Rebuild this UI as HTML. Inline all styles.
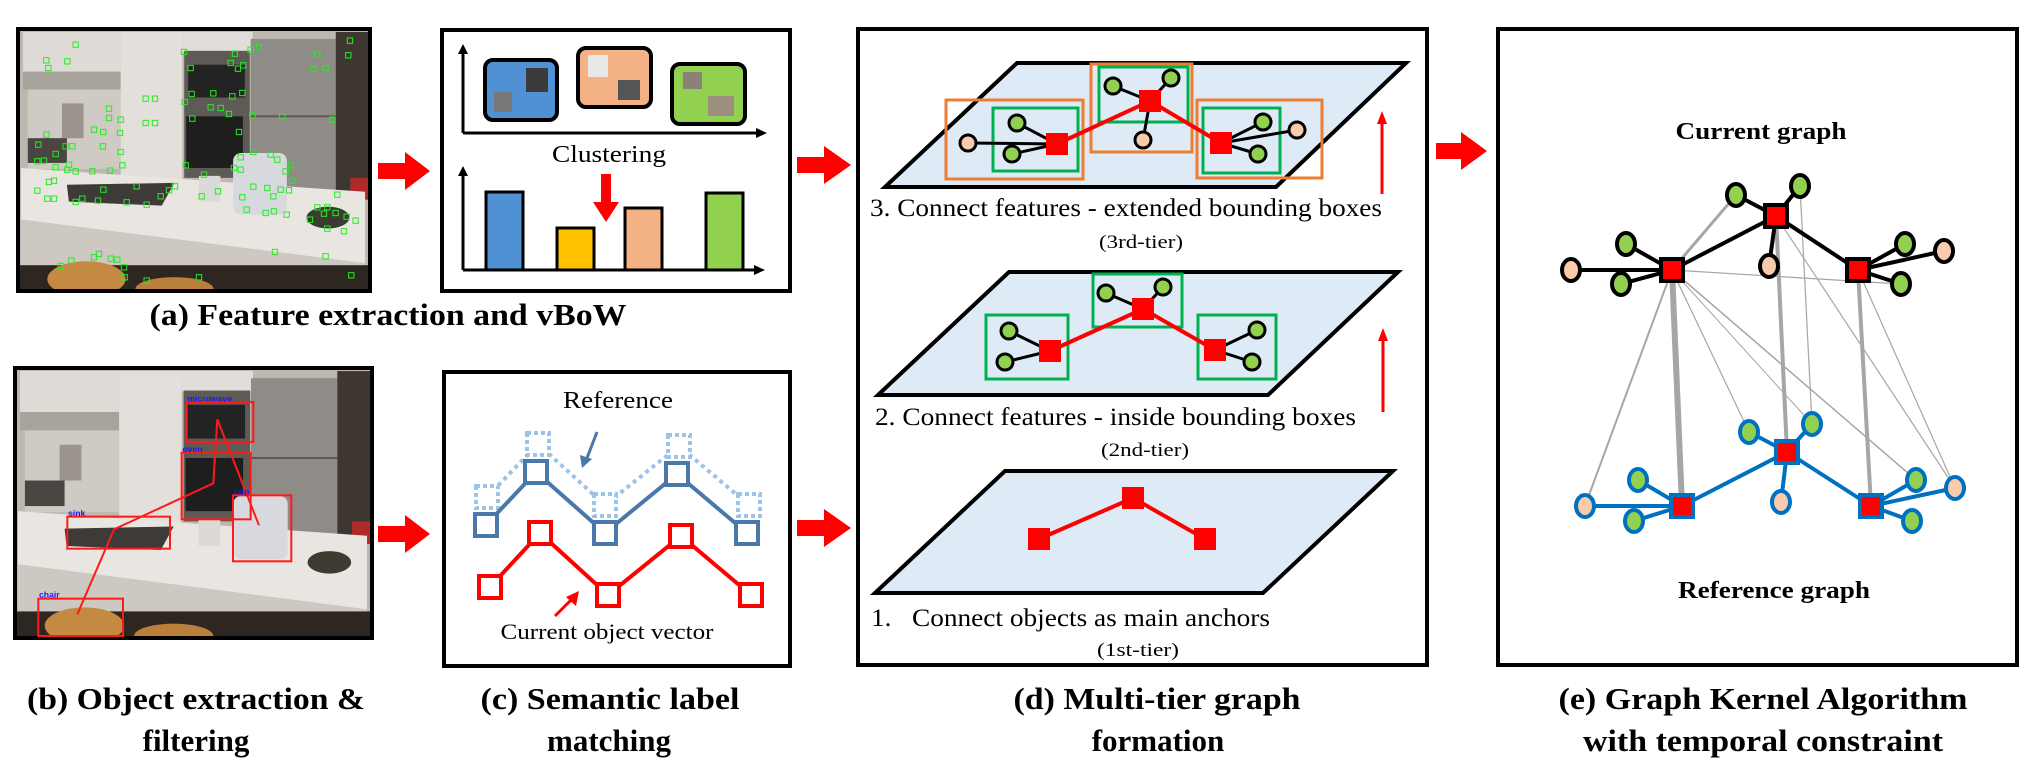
<!DOCTYPE html>
<html><head><meta charset="utf-8"><style>html,body{margin:0;padding:0;background:#fff}svg{display:block}</style></head>
<body>
<svg width="2036" height="769" viewBox="0 0 2036 769" xmlns="http://www.w3.org/2000/svg" font-family="Liberation Serif, serif">
<defs>
<symbol id="kitchen" viewBox="0 0 360 264" preserveAspectRatio="none">
<rect x="0" y="0" width="360" height="264" fill="#bdb7af"/>
<rect x="5" y="3" width="100" height="40" fill="#dedad5"/>
<rect x="5" y="43" width="100" height="18" fill="#a8a39b"/>
<rect x="10" y="61" width="95" height="80" fill="#cfcac3"/>
<rect x="105" y="3" width="63" height="148" fill="#e3dfda"/>
<rect x="168" y="3" width="72" height="20" fill="#e1ddd8"/>
<rect x="170" y="22" width="67" height="128" fill="#5e5a56"/>
<rect x="174" y="36" width="58" height="33" fill="#232323"/>
<rect x="172" y="88" width="58" height="52" fill="#1e1e1e"/>
<rect x="238" y="10" width="87" height="158" fill="#8f8b87"/>
<rect x="238" y="87" width="87" height="2" fill="#5c5955"/>
<rect x="325" y="3" width="35" height="168" fill="#3d3631"/>
<rect x="340" y="150" width="20" height="22" fill="#b02a2a"/>
<polygon points="3,140 355,164 355,236 3,192" fill="#e9e6e2"/>
<polygon points="50,157 160,155 147,178 52,174" fill="#3d3a37"/>
<rect x="220" y="125" width="55" height="62" rx="8" fill="#d8d9de"/>
<ellipse cx="317" cy="190" rx="22" ry="11" fill="#3b3b30"/>
<rect x="185" y="148" width="22" height="26" fill="#dcdad8"/>
<polygon points="3,192 355,236 355,264 3,264" fill="#cdc8c2"/>
<rect x="0" y="238" width="360" height="26" fill="#2e2721"/>
<ellipse cx="70" cy="252" rx="40" ry="18" fill="#c48a42"/>
<ellipse cx="160" cy="262" rx="40" ry="12" fill="#b97f3b"/>
<rect x="45" y="75" width="22" height="35" fill="#9a948c"/>
<rect x="10" y="110" width="40" height="25" fill="#4a4540"/>
</symbol>
</defs>

<!-- (a) photo -->
<use href="#kitchen" x="18" y="29" width="352" height="262"/>
<rect x="18" y="29" width="352" height="262" fill="none" stroke="#000" stroke-width="4"/>
<g transform="translate(14,28) scale(0.3333)" fill="none" stroke="#22ee22" stroke-width="3">
<g id="pts">
<rect x="177" y="42" width="16" height="16"/><rect x="89" y="89" width="16" height="16"/><rect x="95" y="112" width="16" height="16"/><rect x="152" y="92" width="16" height="16"/><rect x="502" y="64" width="16" height="16"/><rect x="655" y="69" width="16" height="16"/><rect x="727" y="50" width="16" height="16"/><rect x="702" y="57" width="16" height="16"/><rect x="1000" y="30" width="16" height="16"/><rect x="995" y="74" width="16" height="16"/><rect x="902" y="72" width="16" height="16"/><rect x="927" y="112" width="16" height="16"/><rect x="890" y="114" width="16" height="16"/><rect x="522" y="112" width="16" height="16"/><rect x="664" y="114" width="16" height="16"/><rect x="680" y="104" width="16" height="16"/><rect x="642" y="97" width="16" height="16"/><rect x="525" y="190" width="16" height="16"/><rect x="590" y="188" width="16" height="16"/><rect x="647" y="197" width="16" height="16"/><rect x="677" y="187" width="16" height="16"/><rect x="504" y="214" width="16" height="16"/><rect x="582" y="230" width="16" height="16"/><rect x="612" y="232" width="16" height="16"/><rect x="637" y="250" width="16" height="16"/><rect x="707" y="254" width="16" height="16"/><rect x="797" y="257" width="16" height="16"/><rect x="947" y="267" width="16" height="16"/><rect x="667" y="304" width="16" height="16"/><rect x="527" y="264" width="16" height="16"/><rect x="387" y="204" width="16" height="16"/><rect x="415" y="204" width="16" height="16"/><rect x="387" y="277" width="16" height="16"/><rect x="415" y="277" width="16" height="16"/><rect x="277" y="234" width="16" height="16"/><rect x="277" y="262" width="16" height="16"/><rect x="312" y="267" width="16" height="16"/><rect x="310" y="307" width="16" height="16"/><rect x="232" y="297" width="16" height="16"/><rect x="260" y="304" width="16" height="16"/><rect x="89" y="312" width="16" height="16"/><rect x="65" y="342" width="16" height="16"/><rect x="147" y="347" width="16" height="16"/><rect x="167" y="347" width="16" height="16"/><rect x="259" y="347" width="16" height="16"/><rect x="117" y="370" width="16" height="16"/><rect x="312" y="364" width="16" height="16"/><rect x="62" y="392" width="16" height="16"/><rect x="82" y="390" width="16" height="16"/><rect x="117" y="410" width="16" height="16"/><rect x="157" y="402" width="16" height="16"/><rect x="152" y="417" width="16" height="16"/><rect x="177" y="422" width="16" height="16"/><rect x="227" y="422" width="16" height="16"/><rect x="280" y="420" width="16" height="16"/><rect x="317" y="404" width="16" height="16"/><rect x="507" y="404" width="16" height="16"/><rect x="562" y="432" width="16" height="16"/><rect x="652" y="412" width="16" height="16"/><rect x="672" y="417" width="16" height="16"/><rect x="710" y="364" width="16" height="16"/><rect x="762" y="372" width="16" height="16"/><rect x="782" y="387" width="16" height="16"/><rect x="822" y="404" width="16" height="16"/><rect x="807" y="422" width="16" height="16"/><rect x="672" y="380" width="16" height="16"/><rect x="97" y="454" width="16" height="16"/><rect x="112" y="450" width="16" height="16"/><rect x="62" y="480" width="16" height="16"/><rect x="92" y="504" width="16" height="16"/><rect x="112" y="504" width="16" height="16"/><rect x="260" y="477" width="16" height="16"/><rect x="360" y="467" width="16" height="16"/><rect x="432" y="497" width="16" height="16"/><rect x="457" y="479" width="16" height="16"/><rect x="475" y="467" width="16" height="16"/><rect x="390" y="522" width="16" height="16"/><rect x="330" y="515" width="16" height="16"/><rect x="244" y="510" width="16" height="16"/><rect x="197" y="504" width="16" height="16"/><rect x="177" y="514" width="16" height="16"/><rect x="555" y="497" width="16" height="16"/><rect x="604" y="482" width="16" height="16"/><rect x="677" y="500" width="16" height="16"/><rect x="710" y="468" width="16" height="16"/><rect x="752" y="472" width="16" height="16"/><rect x="792" y="477" width="16" height="16"/><rect x="817" y="479" width="16" height="16"/><rect x="827" y="450" width="16" height="16"/><rect x="770" y="497" width="16" height="16"/><rect x="690" y="537" width="16" height="16"/><rect x="747" y="547" width="16" height="16"/><rect x="772" y="542" width="16" height="16"/><rect x="810" y="552" width="16" height="16"/><rect x="962" y="492" width="16" height="16"/><rect x="902" y="530" width="16" height="16"/><rect x="932" y="530" width="16" height="16"/><rect x="957" y="547" width="16" height="16"/><rect x="990" y="558" width="16" height="16"/><rect x="1017" y="570" width="16" height="16"/><rect x="880" y="567" width="16" height="16"/><rect x="922" y="549" width="16" height="16"/><rect x="932" y="594" width="16" height="16"/><rect x="982" y="602" width="16" height="16"/><rect x="775" y="664" width="16" height="16"/><rect x="927" y="677" width="16" height="16"/><rect x="132" y="706" width="16" height="16"/><rect x="164" y="690" width="16" height="16"/><rect x="232" y="680" width="16" height="16"/><rect x="247" y="670" width="16" height="16"/><rect x="282" y="684" width="16" height="16"/><rect x="302" y="687" width="16" height="16"/><rect x="322" y="710" width="16" height="16"/><rect x="324" y="740" width="16" height="16"/><rect x="390" y="750" width="16" height="16"/><rect x="547" y="740" width="16" height="16"/><rect x="1004" y="734" width="16" height="16"/>
</g>
</g>

<!-- (b) photo -->
<use href="#kitchen" x="15" y="368" width="357" height="270"/>
<rect x="15" y="368" width="357" height="270" fill="none" stroke="#000" stroke-width="4"/>
<g transform="translate(14,366) scale(0.3333)">
<g fill="none" stroke="#ff1a1a" stroke-width="6">
<rect x="518" y="108" width="200" height="120"/><rect x="503" y="260" width="207" height="200"/><rect x="160" y="452" width="308" height="96"/><rect x="657" y="388" width="175" height="198"/><rect x="73" y="698" width="254" height="112"/>
<polyline points="190,745 300,490 598,352 610,160 735,478"/>
</g>
<g fill="#1a1aff" font-family="Liberation Sans, sans-serif" font-size="26" font-weight="bold">
<text x="520" y="106">microwave</text><text x="505" y="258">oven</text><text x="162" y="450">sink</text><text x="660" y="386">cup</text><text x="75" y="695">chair</text>
</g>
</g>

<!-- red arrows -->
<g fill="#ff0000">
<polygon points="378,163 405,163 405,152 430,171 405,190 405,179 378,179"/>
<polygon points="378,526 405,526 405,515 430,534 405,553 405,542 378,542"/>
<polygon points="797,157 824,157 824,146 851,165 824,184 824,173 797,173"/>
<polygon points="797,520 824,520 824,509 851,528 824,547 824,536 797,536"/>
<polygon points="1436,143 1461,143 1461,132 1487,151 1461,170 1461,159 1436,159"/>
</g>

<!-- (a) right box -->
<rect x="442" y="30" width="348" height="261" fill="#fff" stroke="#000" stroke-width="4"/>
<g stroke="#000" stroke-width="3" fill="none">
<line x1="463" y1="52" x2="463" y2="133"/><line x1="463" y1="133" x2="758" y2="133"/>
<line x1="463" y1="174" x2="463" y2="270"/><line x1="463" y1="270" x2="756" y2="270"/>
</g>
<g fill="#000">
<polygon points="458,54 463,44 468,54"/><polygon points="756,128 767,133 756,138"/>
<polygon points="458,176 463,166 468,176"/><polygon points="754,265 765,270 754,275"/>
</g>
<rect x="485" y="60" width="72" height="60" rx="8" fill="#4f91d3" stroke="#000" stroke-width="4"/>
<rect x="526" y="68" width="22" height="24" fill="#3a3a3a"/><rect x="494" y="92" width="18" height="20" fill="#777"/>
<rect x="578" y="48" width="73" height="59" rx="8" fill="#f4b183" stroke="#000" stroke-width="4"/>
<rect x="588" y="55" width="20" height="22" fill="#e8e8e8"/><rect x="618" y="80" width="22" height="20" fill="#555"/>
<rect x="672" y="64" width="73" height="60" rx="8" fill="#92d050" stroke="#000" stroke-width="4"/>
<rect x="683" y="72" width="19" height="17" fill="#8a8278"/><rect x="708" y="96" width="26" height="20" fill="#9c8f7e"/>
<text x="609" y="162" font-size="24" text-anchor="middle" textLength="114" lengthAdjust="spacingAndGlyphs">Clustering</text>
<polygon points="601,174 611,174 611,202 619,202 606,222 593,202 601,202" fill="#ff0000"/>
<g stroke="#000" stroke-width="3">
<rect x="486" y="192" width="37" height="78" fill="#4f91d3"/>
<rect x="557" y="228" width="37" height="42" fill="#ffc000"/>
<rect x="625" y="208" width="37" height="62" fill="#f4b183"/>
<rect x="706" y="193" width="37" height="77" fill="#92d050"/>
</g>
<text x="388" y="325" font-size="31" font-weight="bold" text-anchor="middle" textLength="477" lengthAdjust="spacingAndGlyphs">(a) Feature extraction and vBoW</text>

<!-- (c) box -->
<rect x="444" y="372" width="346" height="294" fill="#fff" stroke="#000" stroke-width="4"/>
<text x="618" y="408" font-size="24" text-anchor="middle" textLength="110" lengthAdjust="spacingAndGlyphs">Reference</text>
<line x1="597" y1="432" x2="587" y2="458" stroke="#4a78a8" stroke-width="3"/>
<polygon points="580,455 582,468 592,459" fill="#4a78a8"/>
<polyline points="487,497 538,444 605,505 679,446 749,505" fill="none" stroke="#9dc3e6" stroke-width="4" stroke-dasharray="4 4"/>
<g fill="#fff" stroke="#9dc3e6" stroke-width="4" stroke-dasharray="4 3">
<rect x="476" y="486" width="22" height="22"/><rect x="527" y="433" width="22" height="22"/><rect x="594" y="494" width="22" height="22"/><rect x="668" y="435" width="22" height="22"/><rect x="738" y="494" width="22" height="22"/>
</g>
<polyline points="486,525 536,472 605,533 677,474 747,533" fill="none" stroke="#4a78a8" stroke-width="4"/>
<g fill="#fff" stroke="#4a78a8" stroke-width="4">
<rect x="475" y="514" width="22" height="22"/><rect x="525" y="461" width="22" height="22"/><rect x="594" y="522" width="22" height="22"/><rect x="666" y="463" width="22" height="22"/><rect x="736" y="522" width="22" height="22"/>
</g>
<polyline points="490,587 540,533 608,595 681,536 751,595" fill="none" stroke="#ff0000" stroke-width="4"/>
<g fill="#fff" stroke="#ff0000" stroke-width="4">
<rect x="479" y="576" width="22" height="22"/><rect x="529" y="522" width="22" height="22"/><rect x="597" y="584" width="22" height="22"/><rect x="670" y="525" width="22" height="22"/><rect x="740" y="584" width="22" height="22"/>
</g>
<line x1="555" y1="616" x2="572" y2="599" stroke="#ff0000" stroke-width="3"/>
<polygon points="579,591 576,606 566,597" fill="#ff0000"/>
<text x="607" y="639" font-size="22" text-anchor="middle" textLength="213" lengthAdjust="spacingAndGlyphs">Current object vector</text>

<!-- (d) box -->
<rect x="858" y="29" width="569" height="636" fill="#fff" stroke="#000" stroke-width="4"/>
<g fill="#deebf7" stroke="#000" stroke-width="4" stroke-linejoin="miter">
<polygon points="1017,63 1406,63 1276,187 885,187"/>
<polygon points="1009,272 1398,272 1268,395 878,395"/>
<polygon points="1005,471 1393,471 1263,593 875,593"/>
</g>
<!-- tier 3 -->
<g fill="none" stroke-width="3">
<rect x="946" y="100" width="137" height="79" stroke="#ed7d31"/>
<rect x="1091" y="64" width="101" height="88" stroke="#ed7d31"/>
<rect x="1197" y="100" width="125" height="78" stroke="#ed7d31"/>
<rect x="993" y="108" width="85" height="63" stroke="#00b050"/>
<rect x="1099" y="67" width="89" height="55" stroke="#00b050"/>
<rect x="1203" y="108" width="77" height="65" stroke="#00b050"/>
</g>
<polyline points="1057,144 1150,101 1221,143" fill="none" stroke="#ff0000" stroke-width="4"/>
<g stroke="#000" stroke-width="3">
<line x1="968" y1="143" x2="1057" y2="144"/><line x1="1017" y1="123" x2="1057" y2="144"/><line x1="1012" y1="154" x2="1057" y2="144"/>
<line x1="1113" y1="86" x2="1150" y2="101"/><line x1="1171" y1="78" x2="1150" y2="101"/><line x1="1143" y1="140" x2="1150" y2="101"/>
<line x1="1263" y1="122" x2="1221" y2="143"/><line x1="1258" y1="154" x2="1221" y2="143"/><line x1="1297" y1="130" x2="1221" y2="143"/>
</g>
<g fill="#ff0000"><rect x="1046" y="133" width="22" height="22"/><rect x="1139" y="90" width="22" height="22"/><rect x="1210" y="132" width="22" height="22"/></g>
<g stroke="#000" stroke-width="3" fill="#92d050">
<circle cx="1017" cy="123" r="8"/><circle cx="1012" cy="154" r="8"/><circle cx="1113" cy="86" r="8"/><circle cx="1171" cy="78" r="8"/><circle cx="1263" cy="122" r="8"/><circle cx="1258" cy="154" r="8"/>
</g>
<g stroke="#000" stroke-width="3" fill="#f8cbad"><circle cx="968" cy="143" r="8"/><circle cx="1143" cy="140" r="8"/><circle cx="1297" cy="130" r="8"/></g>
<!-- tier 2 -->
<g fill="none" stroke="#00b050" stroke-width="3">
<rect x="986" y="315" width="82" height="64"/><rect x="1093" y="274" width="89" height="53"/><rect x="1198" y="315" width="78" height="64"/>
</g>
<polyline points="1050,351 1143,309 1215,350" fill="none" stroke="#ff0000" stroke-width="4"/>
<g stroke="#000" stroke-width="3">
<line x1="1009" y1="331" x2="1050" y2="351"/><line x1="1005" y1="362" x2="1050" y2="351"/>
<line x1="1106" y1="293" x2="1143" y2="309"/><line x1="1163" y1="287" x2="1143" y2="309"/>
<line x1="1257" y1="330" x2="1215" y2="350"/><line x1="1252" y1="362" x2="1215" y2="350"/>
</g>
<g fill="#ff0000"><rect x="1039" y="340" width="22" height="22"/><rect x="1132" y="298" width="22" height="22"/><rect x="1204" y="339" width="22" height="22"/></g>
<g stroke="#000" stroke-width="3" fill="#92d050">
<circle cx="1009" cy="331" r="8"/><circle cx="1005" cy="362" r="8"/><circle cx="1106" cy="293" r="8"/><circle cx="1163" cy="287" r="8"/><circle cx="1257" cy="330" r="8"/><circle cx="1252" cy="362" r="8"/>
</g>
<!-- tier 1 -->
<polyline points="1039,539 1133,498 1205,539" fill="none" stroke="#ff0000" stroke-width="4"/>
<g fill="#ff0000"><rect x="1028" y="528" width="22" height="22"/><rect x="1122" y="487" width="22" height="22"/><rect x="1194" y="528" width="22" height="22"/></g>
<!-- up arrows -->
<g stroke="#ff0000" stroke-width="3"><line x1="1382" y1="122" x2="1382" y2="194"/><line x1="1383" y1="339" x2="1383" y2="412"/></g>
<g fill="#ff0000"><polygon points="1377,124 1382,111 1387,124"/><polygon points="1378,341 1383,328 1388,341"/></g>
<g font-size="25">
<text x="870" y="216" textLength="512" lengthAdjust="spacingAndGlyphs">3. Connect features - extended bounding boxes</text>
<text x="875" y="425" textLength="481" lengthAdjust="spacingAndGlyphs">2. Connect features - inside bounding boxes</text>
<text x="871" y="626" xml:space="preserve" textLength="399" lengthAdjust="spacingAndGlyphs">1.   Connect objects as main anchors</text>
</g>
<g font-size="19" text-anchor="middle">
<text x="1141" y="248" textLength="84" lengthAdjust="spacingAndGlyphs">(3rd-tier)</text>
<text x="1145" y="456" textLength="88" lengthAdjust="spacingAndGlyphs">(2nd-tier)</text>
<text x="1138" y="656" textLength="82" lengthAdjust="spacingAndGlyphs">(1st-tier)</text>
</g>

<!-- (e) box -->
<rect x="1498" y="29" width="519" height="636" fill="#fff" stroke="#000" stroke-width="4"/>
<text x="1761" y="139" font-size="24" font-weight="bold" text-anchor="middle" textLength="171" lengthAdjust="spacingAndGlyphs">Current graph</text>
<text x="1774" y="598" font-size="24" font-weight="bold" text-anchor="middle" textLength="192" lengthAdjust="spacingAndGlyphs">Reference graph</text>
<!-- gray correspondence lines -->
<g stroke="#a6a6a6" fill="none">
<line x1="1672" y1="270" x2="1682" y2="506" stroke-width="6"/>
<line x1="1776" y1="216" x2="1787" y2="452" stroke-width="4"/>
<line x1="1858" y1="270" x2="1871" y2="506" stroke-width="4"/>
<line x1="1672" y1="270" x2="1736" y2="195" stroke-width="3"/>
<line x1="1672" y1="270" x2="1585" y2="506" stroke-width="2"/>
<line x1="1672" y1="270" x2="1749" y2="432" stroke-width="1.2"/>
<line x1="1672" y1="270" x2="1812" y2="424" stroke-width="1"/>
<line x1="1672" y1="270" x2="1916" y2="480" stroke-width="1.5"/>
<line x1="1672" y1="270" x2="1901" y2="284" stroke-width="1.2"/>
<line x1="1800" y1="186" x2="1812" y2="424" stroke-width="1.2"/>
<line x1="1776" y1="216" x2="1955" y2="488" stroke-width="1.2"/>
<line x1="1858" y1="270" x2="1955" y2="488" stroke-width="1.2"/>
</g>
<!-- current graph -->
<g stroke="#000" stroke-width="4">
<line x1="1672" y1="270" x2="1776" y2="216"/><line x1="1776" y1="216" x2="1858" y2="270"/>
<line x1="1571" y1="270" x2="1672" y2="270"/><line x1="1626" y1="244" x2="1672" y2="270"/><line x1="1621" y1="284" x2="1672" y2="270"/>
<line x1="1736" y1="195" x2="1776" y2="216"/><line x1="1800" y1="186" x2="1776" y2="216"/><line x1="1769" y1="266" x2="1776" y2="216"/>
<line x1="1905" y1="244" x2="1858" y2="270"/><line x1="1944" y1="251" x2="1858" y2="270"/><line x1="1901" y1="284" x2="1858" y2="270"/>
</g>
<g fill="#ff0000" stroke="#000" stroke-width="4">
<rect x="1661" y="259" width="22" height="22"/><rect x="1765" y="205" width="22" height="22"/><rect x="1847" y="259" width="22" height="22"/>
</g>
<g stroke="#000" stroke-width="4" fill="#92d050">
<ellipse cx="1626" cy="244" rx="9" ry="11"/><ellipse cx="1621" cy="284" rx="9" ry="11"/><ellipse cx="1736" cy="195" rx="9" ry="11"/><ellipse cx="1800" cy="186" rx="9" ry="11"/><ellipse cx="1905" cy="244" rx="9" ry="11"/><ellipse cx="1901" cy="284" rx="9" ry="11"/>
</g>
<g stroke="#000" stroke-width="4" fill="#f8cbad">
<ellipse cx="1571" cy="270" rx="9" ry="11"/><ellipse cx="1769" cy="266" rx="9" ry="11"/><ellipse cx="1944" cy="251" rx="9" ry="11"/>
</g>
<!-- reference graph -->
<g stroke="#0070c0" stroke-width="4">
<line x1="1682" y1="506" x2="1787" y2="452"/><line x1="1787" y1="452" x2="1871" y2="506"/>
<line x1="1585" y1="506" x2="1682" y2="506"/><line x1="1638" y1="480" x2="1682" y2="506"/><line x1="1634" y1="521" x2="1682" y2="506"/>
<line x1="1749" y1="432" x2="1787" y2="452"/><line x1="1812" y1="424" x2="1787" y2="452"/><line x1="1781" y1="502" x2="1787" y2="452"/>
<line x1="1916" y1="480" x2="1871" y2="506"/><line x1="1955" y1="488" x2="1871" y2="506"/><line x1="1912" y1="521" x2="1871" y2="506"/>
</g>
<g fill="#ff0000" stroke="#0070c0" stroke-width="4">
<rect x="1671" y="495" width="22" height="22"/><rect x="1776" y="441" width="22" height="22"/><rect x="1860" y="495" width="22" height="22"/>
</g>
<g stroke="#0070c0" stroke-width="4" fill="#92d050">
<ellipse cx="1638" cy="480" rx="9" ry="11"/><ellipse cx="1634" cy="521" rx="9" ry="11"/><ellipse cx="1749" cy="432" rx="9" ry="11"/><ellipse cx="1812" cy="424" rx="9" ry="11"/><ellipse cx="1916" cy="480" rx="9" ry="11"/><ellipse cx="1912" cy="521" rx="9" ry="11"/>
</g>
<g stroke="#0070c0" stroke-width="4" fill="#f8cbad">
<ellipse cx="1585" cy="506" rx="9" ry="11"/><ellipse cx="1781" cy="502" rx="9" ry="11"/><ellipse cx="1955" cy="488" rx="9" ry="11"/>
</g>

<!-- captions -->
<g font-size="31" font-weight="bold" text-anchor="middle">
<text x="196" y="709" textLength="338" lengthAdjust="spacingAndGlyphs">(b) Object extraction &amp;</text>
<text x="196" y="751">filtering</text>
<text x="610" y="709" textLength="259" lengthAdjust="spacingAndGlyphs">(c) Semantic label</text>
<text x="609" y="751">matching</text>
<text x="1157" y="709" textLength="287" lengthAdjust="spacingAndGlyphs">(d) Multi-tier graph</text>
<text x="1158" y="751">formation</text>
<text x="1763" y="709" textLength="409" lengthAdjust="spacingAndGlyphs">(e) Graph Kernel Algorithm</text>
<text x="1763" y="751" textLength="360" lengthAdjust="spacingAndGlyphs">with temporal constraint</text>
</g>
</svg>
</body></html>
